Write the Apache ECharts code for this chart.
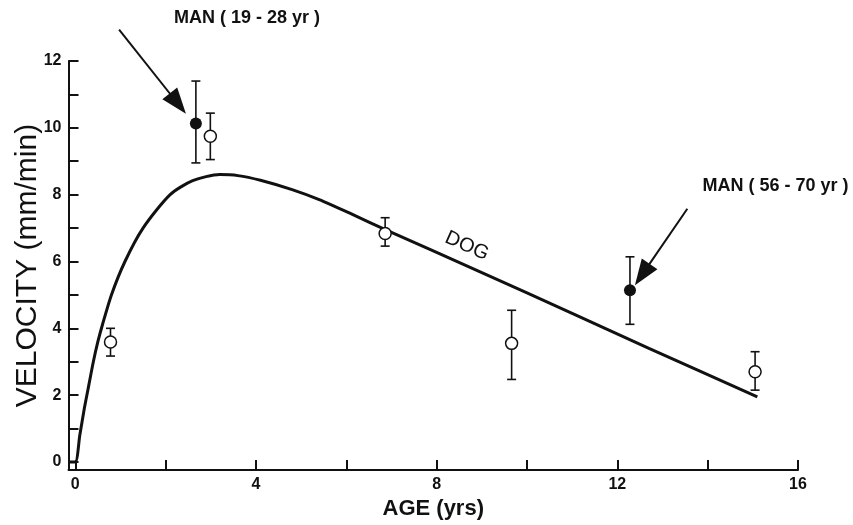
<!DOCTYPE html>
<html>
<head>
<meta charset="utf-8">
<script src="https://cdn.jsdelivr.net/npm/echarts@6/dist/echarts.min.js"></script>
<style>
html,body{margin:0;padding:0;background:#fff;}
#chart{width:853px;height:525px;}
</style>
</head>
<body>
<div id="chart"></div>
<script>
// DOG fitted curve (age yrs, velocity mm/min)
var dogCurve = [
  [-0.15, 0], [0.0, 0], [0.1, 0.8], [0.2, 1.6], [0.3, 2.3], [0.4, 3.0], [0.5, 3.6],
  [0.6, 4.1], [0.8, 5.0], [1.1, 6.0], [1.5, 7.0], [2.1, 8.0], [2.6, 8.42],
  [3.2, 8.6], [3.6, 8.57], [4.1, 8.43], [4.8, 8.15], [5.4, 7.85], [6.1, 7.43],
  [6.9, 6.93], [9.0, 5.67], [11.0, 4.45], [12.7, 3.40], [15.1, 1.95]
];
// Open circles (dog): [age, mean, low, high]
var dogPoints = [
  [0.78, 3.59, 3.17, 4.00],
  [2.99, 9.75, 9.05, 10.44],
  [6.86, 6.84, 6.46, 7.31],
  [9.66, 3.55, 2.47, 4.54],
  [15.05, 2.70, 2.15, 3.30]
];
// Filled circles (man): [age, mean, low, high]
var manPoints = [
  [2.67, 10.13, 8.95, 11.40],
  [12.28, 5.14, 4.12, 6.14]
];
var xTicks = [0, 2, 4, 6, 8, 10, 12, 14, 16];
var xLabels = [0, 4, 8, 12, 16];
var yTicks = [0, 1, 2, 3, 4, 5, 6, 7, 8, 9, 10, 11, 12];
var yLabels = [0, 2, 4, 6, 8, 10, 12];
// annotations (data coords): arrow [start, tip], label text/pos
var arrow1 = [[0.97, 12.94], [2.45, 10.42]];
var arrow2 = [[13.55, 7.58], [12.39, 5.29]];
var label1 = {text: 'MAN ( 19 - 28 yr )', at: [3.8, 13.3]};
var label2 = {text: 'MAN ( 56 - 70 yr )', at: [15.5, 8.25]};
var dogLabel = {text: 'DOG', at: [8.67, 6.46]};

var chart = echarts.init(document.getElementById('chart'));
var FONT = '"Liberation Sans", Arial, sans-serif';

function errRender(params, api) {
  var x = api.value(0), lo = api.value(2), hi = api.value(3);
  var pl = api.coord([x, lo]), ph = api.coord([x, hi]);
  var cap = 4.5;
  var st = {stroke: '#111', lineWidth: 1.6, fill: null};
  return {
    type: 'group',
    children: [
      {type: 'line', shape: {x1: ph[0], y1: ph[1], x2: pl[0], y2: pl[1]}, style: st},
      {type: 'line', shape: {x1: ph[0]-cap, y1: ph[1], x2: ph[0]+cap, y2: ph[1]}, style: st},
      {type: 'line', shape: {x1: pl[0]-cap, y1: pl[1], x2: pl[0]+cap, y2: pl[1]}, style: st}
    ]
  };
}

var option = {
  animation: false,
  backgroundColor: '#fff',
  grid: {left: 68.5, right: 55, top: 61, bottom: 55, containLabel: false, outerBoundsMode: 'none'},
  xAxis: {
    type: 'value', min: -0.15, max: 16,
    name: 'AGE (yrs)', nameLocation: 'middle', nameGap: 28, nameMoveOverlap: false,
    nameTextStyle: {fontFamily: FONT, fontWeight: 'bold', fontSize: 22, color: '#111'},
    axisLine: {onZero: false, lineStyle: {color: '#111', width: 2}},
    axisTick: {inside: true, length: 10, lineStyle: {color: '#111', width: 2}, customValues: xTicks},
    axisLabel: {customValues: xLabels, fontFamily: FONT, fontWeight: 'bold', fontSize: 16, color: '#111', margin: 7},
    splitLine: {show: false}
  },
  yAxis: {
    type: 'value', min: -0.24, max: 12,
    name: 'VELOCITY (mm/min)', nameLocation: 'middle', nameGap: 26, nameMoveOverlap: false,
    nameTextStyle: {fontFamily: FONT, fontSize: 30, color: '#111'},
    axisLine: {onZero: false, lineStyle: {color: '#111', width: 2}},
    axisTick: {inside: true, length: 10, lineStyle: {color: '#111', width: 2}, customValues: yTicks},
    axisLabel: {customValues: yLabels, fontFamily: FONT, fontWeight: 'bold', fontSize: 16, color: '#111', margin: 7},
    splitLine: {show: false}
  },
  series: [
    {
      type: 'line', data: dogCurve, smooth: 0.25, showSymbol: false, clip: false,
      lineStyle: {color: '#111', width: 3},
      z: 2
    },
    {
      type: 'custom', renderItem: errRender, data: dogPoints.concat(manPoints),
      encode: {x: 0, y: [1, 2, 3]}, z: 3
    },
    {
      type: 'scatter', data: dogPoints.map(function(d){return [d[0], d[1]];}),
      symbol: 'circle', symbolSize: 12,
      itemStyle: {color: '#fff', borderColor: '#111', borderWidth: 1.5, opacity: 1},
      z: 4
    },
    {
      type: 'scatter', data: manPoints.map(function(d){return [d[0], d[1]];}),
      symbol: 'circle', symbolSize: 12,
      itemStyle: {color: '#111', borderColor: '#111', borderWidth: 0, opacity: 1},
      z: 4
    }
  ]
};
chart.setOption(option);

function arrowGraphics(arrow) {
  var s = chart.convertToPixel({gridIndex: 0}, arrow[0]);
  var t = chart.convertToPixel({gridIndex: 0}, arrow[1]);
  var dx = t[0] - s[0], dy = t[1] - s[1];
  var len = Math.sqrt(dx * dx + dy * dy);
  var ux = dx / len, uy = dy / len;
  var headLen = 26, headW = 19;
  var bx = t[0] - ux * headLen, by = t[1] - uy * headLen;
  var px = -uy, py = ux;
  return [
    {type: 'line', shape: {x1: s[0], y1: s[1], x2: bx + ux * 2, y2: by + uy * 2}, style: {stroke: '#111', lineWidth: 2}, z: 10},
    {type: 'polygon', shape: {points: [[t[0], t[1]], [bx + px * headW / 2, by + py * headW / 2], [bx - px * headW / 2, by - py * headW / 2]]}, style: {fill: '#111'}, z: 10}
  ];
}

function addTexts() {
  var p1 = chart.convertToPixel({gridIndex: 0}, label1.at);
  var p2 = chart.convertToPixel({gridIndex: 0}, label2.at);
  var p3 = chart.convertToPixel({gridIndex: 0}, dogLabel.at);
  var p4 = chart.convertToPixel({gridIndex: 0}, [6.9, 6.93]);
  var p5 = chart.convertToPixel({gridIndex: 0}, [15.1, 1.95]);
  var ang = Math.atan2(p5[1] - p4[1], p5[0] - p4[0]);
  var g = [
    {type: 'text', x: p1[0], y: p1[1], style: {text: label1.text, fontFamily: FONT, fontWeight: 'bold', fontSize: 18, fill: '#111', align: 'center', verticalAlign: 'middle'}, z: 10},
    {type: 'text', x: p2[0], y: p2[1], style: {text: label2.text, fontFamily: FONT, fontWeight: 'bold', fontSize: 18, fill: '#111', align: 'center', verticalAlign: 'middle'}, z: 10},
    {type: 'text', x: p3[0], y: p3[1], rotation: -ang, style: {text: dogLabel.text, fontFamily: FONT, fontSize: 20, fill: '#111', align: 'center', verticalAlign: 'middle'}, z: 10}
  ];
  g = g.concat(arrowGraphics(arrow1), arrowGraphics(arrow2));
  chart.setOption({graphic: g});
}
addTexts();
</script>
</body>
</html>
